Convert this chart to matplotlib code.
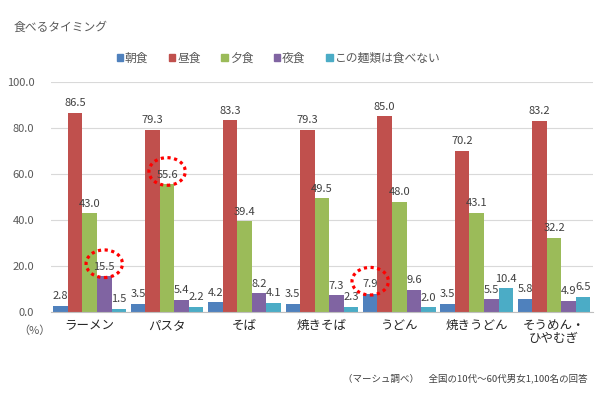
import matplotlib
matplotlib.use("Agg")
import matplotlib.pyplot as plt
import numpy as np
from matplotlib.patches import Ellipse, Patch

plt.rcParams['font.family'] = ['Noto Sans CJK JP', 'DejaVu Sans']

categories = ["ラーメン", "パスタ", "そば", "焼きそば", "うどん", "焼きうどん", "そうめん・\nひやむぎ"]
series_names = ["朝食", "昼食", "夕食", "夜食", "この麺類は食べない"]
breakfast = [2.8, 3.5, 4.2, 3.5, 7.9, 3.5, 5.8]
lunch = [86.5, 79.3, 83.3, 79.3, 85.0, 70.2, 83.2]
dinner = [43.0, 55.6, 39.4, 49.5, 48.0, 43.1, 32.2]
late_night = [15.5, 5.4, 8.2, 7.3, 9.6, 5.5, 4.9]
never = [1.5, 2.2, 4.1, 2.3, 2.0, 10.4, 6.5]
colors = ["#4F81BD", "#C0504D", "#9BBB59", "#8064A2", "#4BACC6"]

# highlighted labels: (series index, category index)
highlights = [(3, 0), (2, 1), (0, 4)]

series = [breakfast, lunch, dinner, late_night, never]
text_color = "#404040"

fig = plt.figure(figsize=(6, 3.96), dpi=100)
ax = fig.add_axes([0.085, 0.212, 0.903, 0.581])

x = np.arange(len(categories))
w = 0.188
for i, vals in enumerate(series):
    pos = x + (i - 2) * w
    ax.bar(pos, vals, width=w, color=colors[i], zorder=2)
    for j, (p, v) in enumerate(zip(pos, vals)):
        ax.text(p, v + 2.0, f"{v:.1f}", ha="center", va="bottom",
                fontsize=8, color=text_color, zorder=3)

for i, j in highlights:
    p = x[j] + (i - 2) * w
    v = series[i][j]
    ax.add_patch(Ellipse((p, v + 5.5), 0.47, 12, fill=False,
                         edgecolor="red", linestyle=(0, (1, 1.1)),
                         linewidth=2.3, zorder=4))

ax.set_xlim(-0.5, len(categories) - 0.5)
ax.set_ylim(0, 100)
ax.set_yticks(np.arange(0, 101, 20))
ax.set_yticklabels([f"{t:.1f}" for t in range(0, 101, 20)])
ax.set_xticks(x)
ax.set_xticklabels(categories, fontsize=9, color="#262626", linespacing=1.05)
ax.tick_params(axis="y", length=0, labelsize=8, labelcolor="#595959", pad=12)
ax.tick_params(axis="x", length=0, pad=5, labelcolor="#262626")
ax.grid(axis="y", color="#D9D9D9", linewidth=0.8, zorder=0)
for s in ["top", "right", "left"]:
    ax.spines[s].set_visible(False)
ax.spines["bottom"].set_color("#BFBFBF")

fig.text(0.022, 0.93, "食べるタイミング", fontsize=8.5, color="#595959", va="center")
fig.text(0.03, 0.166, "（%）", fontsize=8, color="#595959", va="center")

handles = [Patch(color=c) for c in colors]
fig.legend(handles, series_names, loc="center", bbox_to_anchor=(0.464, 0.853),
           ncol=5, frameon=False, fontsize=8.5, handlelength=0.55, handleheight=0.55,
           handletextpad=0.15, columnspacing=1.75, labelcolor="#595959")

fig.text(0.98, 0.045, "（マーシュ調べ）　全国の10代～60代男女1,100名の回答",
         fontsize=6.8, color="#404040", ha="right", va="center")

fig.savefig("out.png", dpi=100, facecolor="white")
